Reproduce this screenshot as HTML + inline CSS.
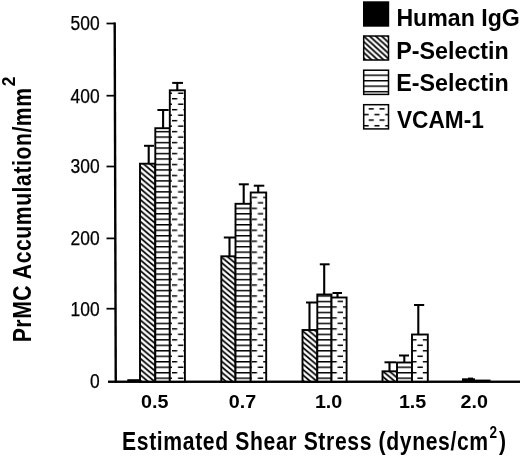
<!DOCTYPE html>
<html><head><meta charset="utf-8"><title>PrMC Accumulation vs Shear Stress</title>
<style>
html,body{margin:0;padding:0;background:#fff;}
body{width:520px;height:458px;overflow:hidden;}
svg{display:block;filter:blur(0.3px);}
text{font-family:"Liberation Sans",Arial,Helvetica,sans-serif;fill:#000;}
.b{font-weight:bold;}
</style></head><body>
<svg width="520" height="458" viewBox="0 0 520 458">
<defs>
<pattern id="hp" patternUnits="userSpaceOnUse" width="6.5" height="5.48" x="140.8" y="205.5">
<rect width="6.5" height="5.48" fill="#fff"/>
<path d="M-6.5,-5.48 L13,10.96 M-6.5,0 L6.5,10.96 M0,-5.48 L13,5.48" stroke="#000" stroke-width="1.75"/>
</pattern>
<pattern id="hpl" patternUnits="userSpaceOnUse" width="6.0" height="5.47" x="364.6" y="37">
<rect width="6.0" height="5.47" fill="#fff"/>
<path d="M-6,-5.47 L12,10.94 M-6,0 L6,10.94 M0,-5.47 L12,5.47" stroke="#000" stroke-width="1.8"/>
</pattern>
<pattern id="he" patternUnits="userSpaceOnUse" width="10" height="5.48" x="0" y="152.8">
<rect width="10" height="5.48" fill="#fff"/>
<rect x="0" y="0" width="10" height="1.45" fill="#000"/>
</pattern>
<pattern id="hel" patternUnits="userSpaceOnUse" width="10" height="5.47" x="0" y="74.5">
<rect width="10" height="5.47" fill="#fff"/>
<rect x="0" y="0" width="10" height="1.45" fill="#000"/>
</pattern>
<pattern id="hv" patternUnits="userSpaceOnUse" width="11.4" height="10.96" x="172" y="152.8">
<rect width="11.4" height="10.96" fill="#fff"/>
<g fill="#000">
<rect x="0" y="0" width="5.2" height="1.45"/><rect x="6.05" y="5.48" width="5.35" height="1.45"/>
</g>
</pattern>
<pattern id="hvl" patternUnits="userSpaceOnUse" width="10.8" height="11.2" x="368.7" y="108.15">
<rect width="10.8" height="11.2" fill="#fff"/>
<rect x="0" y="0" width="5.1" height="1.5" fill="#000"/>
<rect x="5.7" y="5.6" width="5.1" height="1.5" fill="#000"/>
</pattern>
</defs>
<rect width="520" height="458" fill="#fff"/>
<!-- axes -->
<line x1="114.7" y1="22.6" x2="115.75" y2="382.8" stroke="#000" stroke-width="2.4"/>
<line x1="108" y1="381.8" x2="520" y2="381.8" stroke="#000" stroke-width="2.1"/>
<line x1="106.5" y1="23.5" x2="115.2" y2="23.5" stroke="#000" stroke-width="1.75"/>
<text x="99.6" y="30.3" text-anchor="end" font-size="19.3" stroke="#000" stroke-width="0.25" textLength="29.1" lengthAdjust="spacingAndGlyphs">500</text>
<line x1="106.5" y1="95.7" x2="115.2" y2="95.7" stroke="#000" stroke-width="1.75"/>
<text x="99.6" y="102.5" text-anchor="end" font-size="19.3" stroke="#000" stroke-width="0.25" textLength="29.1" lengthAdjust="spacingAndGlyphs">400</text>
<line x1="106.5" y1="166.5" x2="115.2" y2="166.5" stroke="#000" stroke-width="1.75"/>
<text x="99.6" y="173.3" text-anchor="end" font-size="19.3" stroke="#000" stroke-width="0.25" textLength="29.1" lengthAdjust="spacingAndGlyphs">300</text>
<line x1="106.5" y1="238.4" x2="115.2" y2="238.4" stroke="#000" stroke-width="1.75"/>
<text x="99.6" y="245.2" text-anchor="end" font-size="19.3" stroke="#000" stroke-width="0.25" textLength="29.1" lengthAdjust="spacingAndGlyphs">200</text>
<line x1="106.5" y1="308.7" x2="115.2" y2="308.7" stroke="#000" stroke-width="1.75"/>
<text x="99.6" y="315.5" text-anchor="end" font-size="19.3" stroke="#000" stroke-width="0.25" textLength="29.1" lengthAdjust="spacingAndGlyphs">100</text>
<text x="99.6" y="387.8" text-anchor="end" font-size="19.3" stroke="#000" stroke-width="0.25" textLength="9.7" lengthAdjust="spacingAndGlyphs">0</text>

<!-- bars -->
<rect x="127.3" y="379.2" width="13" height="2" fill="#000"/>
<line x1="148.7" y1="145.8" x2="148.7" y2="163.7" stroke="#000" stroke-width="2.1"/><line x1="144.0" y1="145.8" x2="154.0" y2="145.8" stroke="#000" stroke-width="2.0"/>
<line x1="163.1" y1="110.0" x2="163.1" y2="128.2" stroke="#000" stroke-width="2.1"/><line x1="157.4" y1="110.0" x2="168.7" y2="110.0" stroke="#000" stroke-width="2.0"/>
<line x1="177.3" y1="82.9" x2="177.3" y2="90.3" stroke="#000" stroke-width="2.1"/><line x1="172.2" y1="82.9" x2="183.0" y2="82.9" stroke="#000" stroke-width="2.0"/>
<rect x="140.0" y="163.7" width="15.30" height="218.10" fill="url(#hp)" stroke="#000" stroke-width="1.9"/>
<rect x="155.3" y="128.2" width="14.50" height="253.60" fill="url(#he)" stroke="#000" stroke-width="1.9"/>
<rect x="169.8" y="90.3" width="15.10" height="291.50" fill="url(#hv)" stroke="#000" stroke-width="1.9"/>
<line x1="229.5" y1="237.5" x2="229.5" y2="256.3" stroke="#000" stroke-width="2.1"/><line x1="223.8" y1="237.5" x2="235.0" y2="237.5" stroke="#000" stroke-width="2.0"/>
<line x1="243.7" y1="184.3" x2="243.7" y2="203.8" stroke="#000" stroke-width="2.1"/><line x1="238.8" y1="184.3" x2="248.8" y2="184.3" stroke="#000" stroke-width="2.0"/>
<line x1="258.2" y1="185.7" x2="258.2" y2="192.5" stroke="#000" stroke-width="2.1"/><line x1="253.8" y1="185.7" x2="264.3" y2="185.7" stroke="#000" stroke-width="2.0"/>
<rect x="221.3" y="256.3" width="14.20" height="125.50" fill="url(#hp)" stroke="#000" stroke-width="1.9"/>
<rect x="235.5" y="203.8" width="15.20" height="178.00" fill="url(#he)" stroke="#000" stroke-width="1.9"/>
<rect x="250.7" y="192.5" width="15.50" height="189.30" fill="url(#hv)" stroke="#000" stroke-width="1.9"/>
<line x1="309.5" y1="302.5" x2="309.5" y2="330.0" stroke="#000" stroke-width="2.1"/><line x1="306.0" y1="302.5" x2="317.0" y2="302.5" stroke="#000" stroke-width="2.0"/>
<line x1="324.2" y1="264.3" x2="324.2" y2="294.5" stroke="#000" stroke-width="2.1"/><line x1="319.8" y1="264.3" x2="329.6" y2="264.3" stroke="#000" stroke-width="2.0"/>
<line x1="337.5" y1="293.0" x2="337.5" y2="297.5" stroke="#000" stroke-width="2.1"/><line x1="332.5" y1="293.0" x2="342.0" y2="293.0" stroke="#000" stroke-width="2.0"/>
<rect x="302.5" y="330.0" width="14.80" height="51.80" fill="url(#hp)" stroke="#000" stroke-width="1.9"/>
<rect x="317.3" y="294.5" width="14.20" height="87.30" fill="url(#he)" stroke="#000" stroke-width="1.9"/>
<rect x="331.5" y="297.5" width="15.10" height="84.30" fill="url(#hv)" stroke="#000" stroke-width="1.9"/>
<line x1="389.5" y1="362.3" x2="389.5" y2="371.3" stroke="#000" stroke-width="2.1"/><line x1="384.5" y1="362.3" x2="396.0" y2="362.3" stroke="#000" stroke-width="2.0"/>
<line x1="404.3" y1="355.5" x2="404.3" y2="362.5" stroke="#000" stroke-width="2.1"/><line x1="399.0" y1="355.5" x2="409.0" y2="355.5" stroke="#000" stroke-width="2.0"/>
<line x1="418.3" y1="305.0" x2="418.3" y2="334.5" stroke="#000" stroke-width="2.1"/><line x1="414.0" y1="305.0" x2="424.2" y2="305.0" stroke="#000" stroke-width="2.0"/>
<rect x="382.5" y="371.3" width="14.50" height="10.50" fill="url(#hp)" stroke="#000" stroke-width="1.9"/>
<rect x="397.0" y="362.5" width="15.00" height="19.30" fill="url(#he)" stroke="#000" stroke-width="1.9"/>
<rect x="412.0" y="334.5" width="15.80" height="47.30" fill="url(#hv)" stroke="#000" stroke-width="1.9"/>
<rect x="462" y="378.3" width="13" height="3" fill="#000"/>
<rect x="468" y="377.6" width="5" height="2" fill="#000"/>
<rect x="475" y="379.6" width="15.5" height="2" fill="#000"/>
<line x1="108" y1="381.8" x2="520" y2="381.8" stroke="#000" stroke-width="2.1"/>
<text x="154.7" y="407.6" text-anchor="middle" class="b" font-size="19.2" textLength="27.4" lengthAdjust="spacingAndGlyphs">0.5</text>
<text x="242.5" y="407.6" text-anchor="middle" class="b" font-size="19.2" textLength="27.4" lengthAdjust="spacingAndGlyphs">0.7</text>
<text x="328.6" y="407.6" text-anchor="middle" class="b" font-size="19.2" textLength="27.4" lengthAdjust="spacingAndGlyphs">1.0</text>
<text x="412.6" y="407.6" text-anchor="middle" class="b" font-size="19.2" textLength="27.4" lengthAdjust="spacingAndGlyphs">1.5</text>
<text x="474.2" y="407.6" text-anchor="middle" class="b" font-size="19.2" textLength="27.4" lengthAdjust="spacingAndGlyphs">2.0</text>

<!-- axis titles -->
<text class="b" transform="translate(122.1,450.3) scale(0.83,1)" font-size="25.5" textLength="441" lengthAdjust="spacing">Estimated Shear Stress (dynes/cm</text>
<text class="b" transform="translate(489.6,437.8) scale(0.85,1)" font-size="16">2</text>
<text class="b" transform="translate(499.0,450.3) scale(0.83,1)" font-size="25.5">)</text>
<text class="b" transform="translate(31.3,342.3) rotate(-90) scale(0.83,1)" font-size="25.5" textLength="306.4" lengthAdjust="spacing">PrMC Accumulation/mm</text>
<text class="b" transform="translate(15,86.3) rotate(-90)" font-size="19" textLength="9.6" lengthAdjust="spacingAndGlyphs">2</text>
<!-- legend -->
<rect x="363" y="1.3" width="26.2" height="25.4" fill="#000"/>
<rect x="363.7" y="36" width="24.8" height="24" fill="url(#hpl)" stroke="#000" stroke-width="1.5"/>
<rect x="363.7" y="70.2" width="24.8" height="24.2" fill="url(#hel)" stroke="#000" stroke-width="1.5"/>
<rect x="363.7" y="104.7" width="24.8" height="24.2" fill="url(#hvl)" stroke="#000" stroke-width="1.5"/>
<text class="b" x="396.4" y="25.7" font-size="24" textLength="123.4" lengthAdjust="spacingAndGlyphs">Human IgG</text>
<text class="b" x="396.2" y="59.3" font-size="24" textLength="112.6" lengthAdjust="spacingAndGlyphs">P-Selectin</text>
<text class="b" x="396.2" y="90.6" font-size="24" textLength="112.6" lengthAdjust="spacingAndGlyphs">E-Selectin</text>
<text class="b" x="397.0" y="128" font-size="24" textLength="86.8" lengthAdjust="spacingAndGlyphs">VCAM-1</text>
</svg>
</body></html>
